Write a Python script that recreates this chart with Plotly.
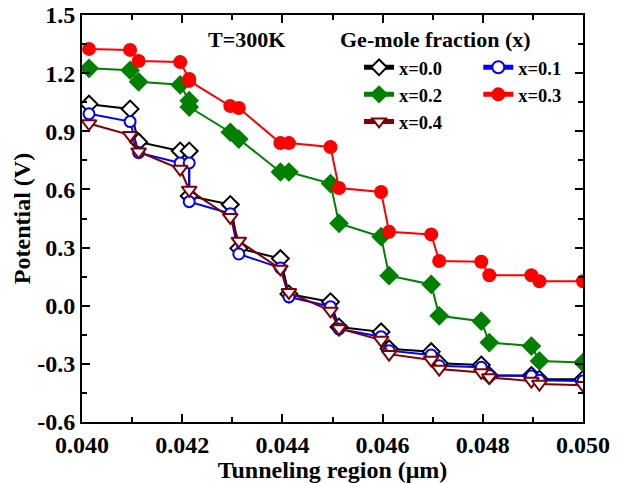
import plotly.graph_objects as go

# x positions (µm)
x_main = [0.04014, 0.04096, 0.04113, 0.04196, 0.04214, 0.04214, 0.04296, 0.04313, 0.04396, 0.04413,
          0.04496, 0.04513, 0.04597, 0.04613, 0.04697, 0.04713, 0.04797, 0.04813, 0.04897, 0.04913, 0.0500]
x_tri = [0.04014, 0.04096, 0.04113, 0.04196, 0.04214, 0.04296, 0.04313, 0.04396, 0.04413,
         0.04496, 0.04513, 0.04597, 0.04613, 0.04697, 0.04713, 0.04797, 0.04813, 0.04897, 0.04913, 0.0500]

v_x00 = [1.04, 1.015, 0.845, 0.798, 0.798, 0.566, 0.522, 0.296, 0.243, 0.06, 0.02, -0.11,
         -0.135, -0.222, -0.237, -0.297, -0.306, -0.36, -0.36, -0.38, -0.38]
v_x01 = [0.99, 0.95, 0.79, 0.737, 0.737, 0.537, 0.475, 0.267, 0.195, 0.046, -0.005, -0.12,
         -0.16, -0.232, -0.254, -0.31, -0.318, -0.36, -0.363, -0.385, -0.388]
v_x02 = [1.225, 1.215, 1.155, 1.14, 1.058, 1.025, 0.895, 0.86, 0.69, 0.69, 0.63, 0.425,
         0.356, 0.155, 0.11, -0.052, -0.08, -0.19, -0.208, -0.285, -0.293]
v_x03 = [1.325, 1.32, 1.263, 1.257, 1.17, 1.16, 1.03, 1.02, 0.839, 0.839, 0.819, 0.607,
         0.587, 0.381, 0.368, 0.231, 0.227, 0.157, 0.157, 0.126, 0.126]
v_x04 = [0.94, 0.88, 0.795, 0.705, 0.597, 0.456, 0.334, 0.19, 0.069, -0.027, -0.117,
         -0.177, -0.25, -0.28, -0.327, -0.344, -0.37, -0.389, -0.404, -0.41]

x_tickvals = [0.040, 0.042, 0.044, 0.046, 0.048, 0.050]
x_ticktext = ["0.040", "0.042", "0.044", "0.046", "0.048", "0.050"]
y_tickvals = [-0.6, -0.3, 0.0, 0.3, 0.6, 0.9, 1.2, 1.5]
y_ticktext = ["-0.6", "-0.3", "0.0", "0.3", "0.6", "0.9", "1.2", "1.5"]

FONT = "Liberation Serif"

fig = go.Figure()

def add(name, xs, ys, color, symbol, fill, size, legend):
    fig.add_trace(go.Scatter(
        x=xs, y=ys, name=name, mode="lines+markers", legend=legend,
        line=dict(color=color, width=2),
        marker=dict(symbol=symbol, size=size, color=fill,
                    line=dict(color=color, width=2)),
    ))

add("x=0.0", x_main, v_x00, "black", "diamond", "white", 13, "legend")
add("x=0.1", x_main, v_x01, "#0000ff", "circle", "white", 11, "legend2")
add("x=0.2", x_main, v_x02, "#008000", "diamond", "#008000", 13, "legend")
add("x=0.3", x_main, v_x03, "#ff0000", "circle", "#ff0000", 12, "legend2")
add("x=0.4", x_tri, v_x04, "#800000", "triangle-down", "white", 13, "legend")

tickfont = dict(family=FONT, size=24, color="black", weight="bold")
legfont = dict(family=FONT, size=18.5, color="black", weight="bold")
titlefont = dict(family=FONT, size=24, color="black", weight="bold")

fig.update_layout(
    width=617, height=483,
    margin=dict(l=82, r=34, t=15, b=61, autoexpand=False),
    paper_bgcolor="white", plot_bgcolor="white",
    showlegend=True,
    legend=dict(x=0.553, y=0.917, xanchor="left", yanchor="top", font=legfont,
                bgcolor="rgba(0,0,0,0)", tracegroupgap=0, itemsizing="constant"),
    legend2=dict(x=0.791, y=0.917, xanchor="left", yanchor="top", font=legfont,
                 bgcolor="rgba(0,0,0,0)", tracegroupgap=0, itemsizing="constant"),
    annotations=[
        dict(text="T=300K", x=0.329, y=0.941, xref="paper", yref="paper",
             xanchor="center", yanchor="middle",
             showarrow=False, font=dict(family=FONT, size=22, color="black", weight="bold")),
        dict(text="Ge-mole fraction (x)", x=0.705, y=0.941, xref="paper", yref="paper",
             xanchor="center", yanchor="middle",
             showarrow=False, font=dict(family=FONT, size=22, color="black", weight="bold")),
    ],
)

fig.update_xaxes(
    range=[0.040, 0.050], tickvals=x_tickvals, ticktext=x_ticktext, automargin=False,
    showline=True, linecolor="black", linewidth=2, mirror="ticks",
    ticks="inside", ticklen=8, tickwidth=2, tickcolor="black",
    minor=dict(ticks="inside", dtick=0.001, tick0=0.040, ticklen=5, tickwidth=2, tickcolor="black"),
    showgrid=False, zeroline=False, tickfont=tickfont,
    title=dict(text="Tunneling region (μm)", font=titlefont, standoff=0),
)
fig.update_yaxes(
    range=[-0.6, 1.5], tickvals=y_tickvals, ticktext=y_ticktext, automargin=False,
    showline=True, linecolor="black", linewidth=2, mirror="ticks",
    ticks="inside", ticklen=8, tickwidth=2, tickcolor="black",
    minor=dict(ticks="inside", dtick=0.15, tick0=-0.6, ticklen=5, tickwidth=2, tickcolor="black"),
    showgrid=False, zeroline=False, tickfont=tickfont,
    title=dict(text="Potential (V)", font=titlefont, standoff=0),
)

fig.write_html("out.html")
